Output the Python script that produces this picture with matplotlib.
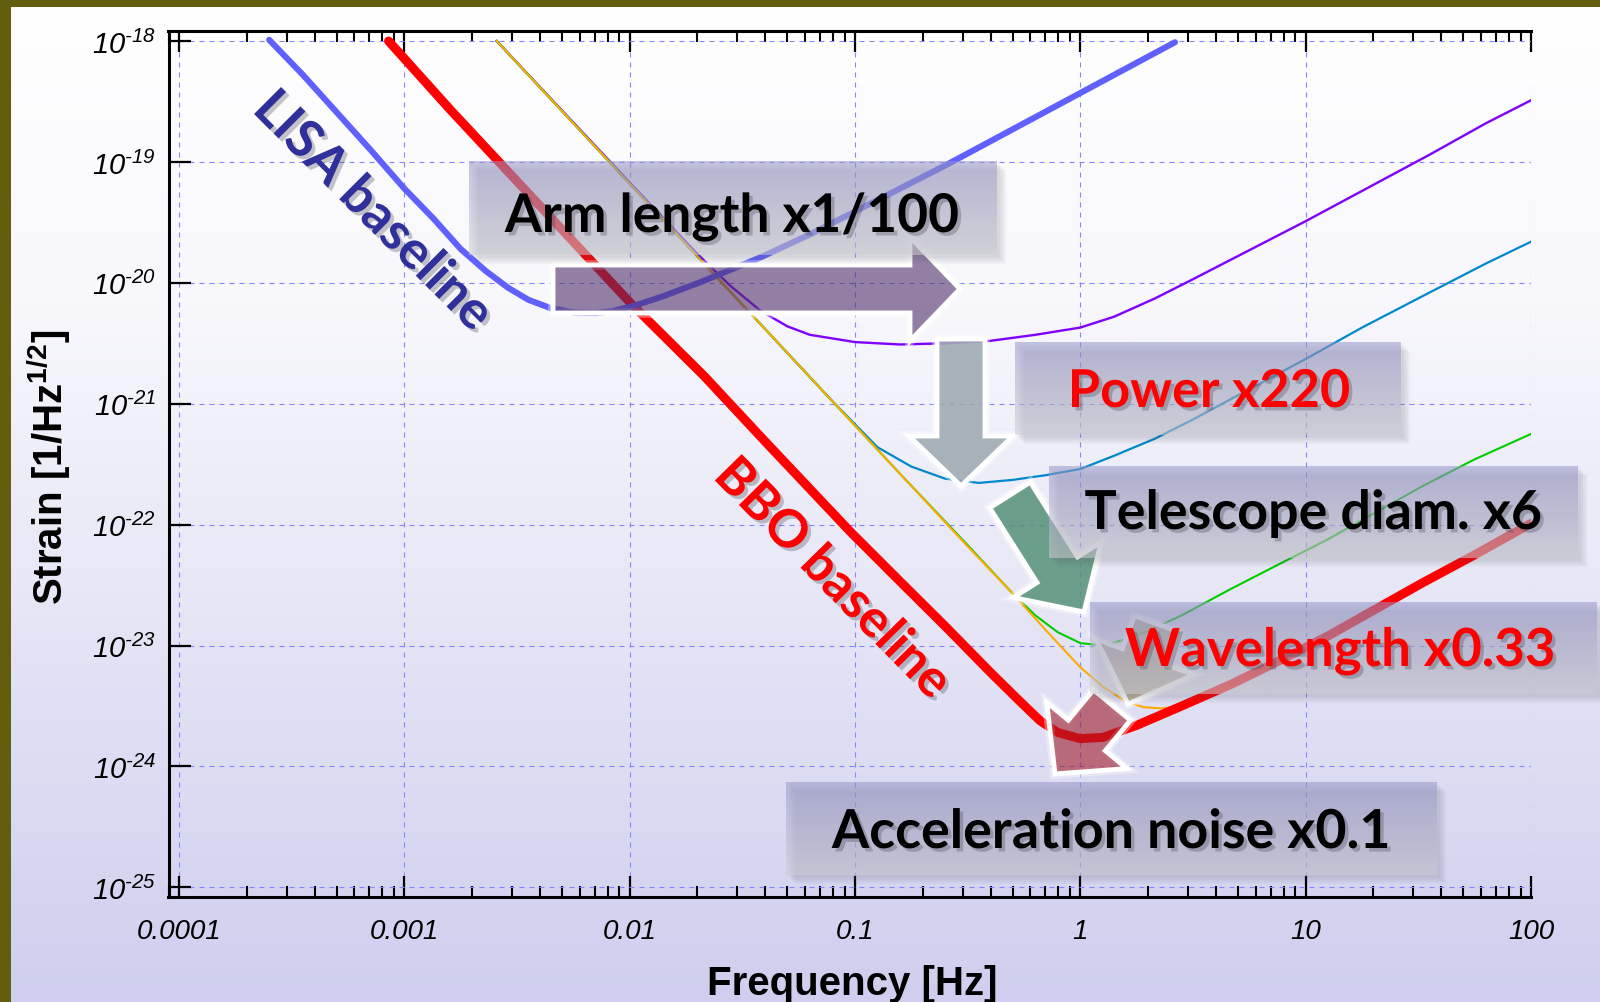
import numpy as np
import matplotlib
matplotlib.use("Agg")
import matplotlib.pyplot as plt
import matplotlib.patches as mpatches
import matplotlib.transforms as mtransforms
import matplotlib.patheffects as pe
from matplotlib.ticker import FixedLocator, NullLocator, LogLocator

W, H = 1600, 1003

# sensitivity curves: log10(f / Hz) and log10(strain / Hz^-1/2)
lisa_logf = [-3.60, -3.45, -3.30, -3.15, -3.00, -2.87, -2.75, -2.64, -2.54, -2.45, -2.35, -2.25,
             -2.15, -2.08, -1.98, -1.85, -1.68, -1.42, -1.20, -1.00, -0.80, -0.60, -0.40, -0.20, 0.00, 0.20, 0.42]
lisa_logh = [-17.99, -18.28, -18.59, -18.90, -19.22, -19.47, -19.72, -19.90, -20.04, -20.14, -20.21, -20.245,
             -20.25, -20.235, -20.19, -20.11, -19.99, -19.79, -19.60, -19.41, -19.22, -19.03, -18.83, -18.63,
             -18.43, -18.23, -18.01]

bbo_logf = [-3.07, -2.80, -2.50, -2.20, -2.00, -1.67, -1.40, -1.02, -0.80, -0.60, -0.40, -0.28, -0.18,
            -0.10, 0.00, 0.10, 0.25, 0.45, 0.67, 0.90, 1.10, 1.30, 1.52, 1.75, 2.00]
bbo_logh = [-18.00, -18.56, -19.16, -19.76, -20.16, -20.77, -21.31, -22.06, -22.47, -22.84, -23.22, -23.44, -23.62,
            -23.72, -23.77, -23.76, -23.66, -23.50, -23.32, -23.11, -22.92, -22.71, -22.48, -22.25, -21.99]

arm_logf = [-2.59, -2.00, -1.70, -1.55, -1.42, -1.30, -1.20, -1.00, -0.80, -0.60, -0.40, -0.20, 0.00,
            0.15, 0.33, 0.50, 0.75, 1.00, 1.30, 1.55, 1.80, 2.00]
arm_logh = [-18.00, -19.17, -19.76, -20.03, -20.23, -20.36, -20.43, -20.49, -20.51, -20.50, -20.48, -20.43, -20.37,
            -20.28, -20.13, -19.97, -19.73, -19.49, -19.19, -18.94, -18.68, -18.49]

power_logf = [-2.59, -2.00, -1.40, -1.10, -0.90, -0.75, -0.60, -0.45, -0.30, -0.15, 0.00, 0.15, 0.33,
              0.50, 0.75, 1.00, 1.25, 1.55, 1.80, 2.00]
power_logh = [-18.00, -19.18, -20.38, -20.98, -21.36, -21.52, -21.62, -21.655, -21.63, -21.59, -21.54, -21.43, -21.29,
              -21.13, -20.88, -20.63, -20.37, -20.08, -19.84, -19.66]

tele_logf = [-2.59, -2.00, -1.40, -0.80, -0.50, -0.40, -0.30, -0.20, -0.10, 0.00, 0.10, 0.20, 0.30,
             0.45, 0.67, 0.90, 1.10, 1.30, 1.52, 1.75, 2.00]
tele_logh = [-18.00, -19.18, -20.38, -21.58, -22.17, -22.37, -22.57, -22.75, -22.89, -22.98, -23.00, -22.95, -22.88,
             -22.75, -22.53, -22.31, -22.12, -21.91, -21.68, -21.46, -21.25]

wave_logf = [-2.59, -2.30, -2.00, -1.70, -1.40, -1.10, -0.80, -0.50, -0.30, -0.15, 0.00, 0.10, 0.20, 0.28,
             0.36, 0.45, 0.67, 0.90, 1.10, 1.30, 1.52, 1.75, 2.00]
wave_logh = [-18.00, -18.58, -19.18, -19.78, -20.38, -20.98, -21.58, -22.18, -22.57, -22.88, -23.18, -23.34, -23.46, -23.51,
             -23.52, -23.50, -23.32, -23.11, -22.92, -22.71, -22.48, -22.25, -21.99]

xticks = [1e-4, 1e-3, 1e-2, 1e-1, 1, 10, 100]
xticklabels = ["0.0001", "0.001", "0.01", "0.1", "1", "10", "100"]
yticks = [1e-25, 1e-24, 1e-23, 1e-22, 1e-21, 1e-20, 1e-19, 1e-18]
yexps = [25, 24, 23, 22, 21, 20, 19, 18]
yticklabels = ["$10^{\u2010%d}$" % e for e in yexps]

plt.rcParams["mathtext.fontset"] = "custom"
plt.rcParams["mathtext.rm"] = "Liberation Sans:italic"
plt.rcParams["mathtext.it"] = "Liberation Sans:italic"
plt.rcParams["mathtext.bf"] = "Liberation Sans:bold"

fig = plt.figure(figsize=(16, 10.03), dpi=100, facecolor="#635d0d")
# pixel coords, origin top-left
px = mtransforms.Affine2D().scale(1 / W, -1 / H).translate(0, 1) + fig.transFigure

# background gradient
bg = fig.add_axes([11 / W, 0, 1 - 11 / W, 1 - 8 / H])
t = np.linspace(0, 1, 300)
stops = [0, 0.3, 0.6, 1]
cols = np.array([[255, 255, 255], [247, 247, 252], [230, 230, 246], [207, 206, 238]]) / 255
grad = np.stack([np.interp(t, stops, cols[:, k]) for k in range(3)], axis=1)[:, None, :]
bg.imshow(grad, aspect="auto", extent=(0, 1, 0, 1))
bg.axis("off")
bg.set_zorder(-1)

ax = fig.add_axes([168.5 / W, 1 - 898 / H, (1531 - 168.5) / W, (898 - 32) / H])
ax.patch.set_visible(False)
ax.set_xscale("log")
ax.set_yscale("log")

def curve(lf, lh, **kw):
    ax.plot(10 ** np.array(lf), 10 ** np.array(lh), **kw)

curve(arm_logf, arm_logh, color="#8000ff", lw=1.7, zorder=2)
curve(power_logf, power_logh, color="#0088cc", lw=1.6, zorder=2.1)
curve(tele_logf, tele_logh, color="#00cc00", lw=1.5, zorder=2.2)
curve(wave_logf, wave_logh, color="#ffaa00", lw=1.5, zorder=2.3)
curve(bbo_logf, bbo_logh, color="#ff0000", lw=6.5, solid_capstyle="round", zorder=2.5)
curve(lisa_logf, lisa_logh, color="#6060ff", lw=4.4, solid_capstyle="round", zorder=2.6)

ax.set_xlim(10 ** -4.0466, 100)
ax.set_ylim(10 ** -25.08, 10 ** -17.917)

ax.xaxis.set_major_locator(FixedLocator(xticks))
ax.xaxis.set_minor_locator(LogLocator(base=10, subs=np.arange(2, 10), numticks=30))
ax.set_xticklabels(xticklabels, fontstyle="italic", family="Liberation Sans")
ax.yaxis.set_major_locator(FixedLocator(yticks))
ax.yaxis.set_minor_locator(NullLocator())
ax.set_yticklabels(yticklabels)

ax.tick_params(axis="x", which="major", direction="in", length=15, width=1.6,
               top=True, bottom=True, pad=15, labelsize=20)
ax.tick_params(axis="x", which="minor", direction="in", length=8, width=1.5, top=True, bottom=True)
ax.tick_params(axis="y", which="major", direction="in", length=16, width=1.6,
               left=True, right=False, pad=9, labelsize=21)
for s in ["left", "bottom", "top"]:
    ax.spines[s].set_linewidth(2.2)
ax.spines["right"].set_visible(False)
ax.set_axisbelow(True)
ax.grid(True, which="major", color="#8585ff", lw=0.8, ls=(0, (4.5, 4.5)))

fig.text(49 / W, 1 - 467 / H, r"Strain [1/Hz$^{\mathbf{1/2}}$]", rotation=90, ha="center", va="center",
         fontsize=29, fontweight="bold", family="Liberation Sans")
fig.text(852 / W, 1 - 995 / H, "Frequency [Hz]", ha="center", va="baseline",
         fontsize=29, fontweight="bold", family="Liberation Sans")

shadow = [pe.withSimplePatchShadow(offset=(2.5, -2.5), shadow_rgbFace="#404050", alpha=0.3)]

fig.text(373, 212, "LISA baseline", transform=px, rotation=-45, rotation_mode="anchor",
         ha="center", va="center", fontsize=38, fontweight="bold", family="Lato",
         color="#30309a", path_effects=shadow, zorder=6)
fig.text(832, 580, "BBO baseline", transform=px, rotation=-45.5, rotation_mode="anchor",
         ha="center", va="center", fontsize=37.5, fontweight="bold", family="Lato",
         color="#ff0000", path_effects=shadow, zorder=6)

# block arrows: tail, tip, face colour, alpha
arrows = [
    ((553, 290), (960, 290), "#502f69", 0.6),
    ((961, 340), (961, 487), "#9ba7af", 0.85),
    ((1010, 496), (1084, 613), "#559078", 0.85),
    ((1157, 625), (1128, 705), "#b0a080", 0.75),
    ((1112, 706), (1055, 775), "#a01c2a", 0.6),
]
for (x0, y0), (x1, y1), c, a in arrows:
    rgb = matplotlib.colors.to_rgb(c)
    geom = dict(width=48, head_width=104, head_length=50, length_includes_head=True, transform=px)
    fig.add_artist(mpatches.FancyArrow(x0, y0, x1 - x0, y1 - y0, facecolor="none",
                                       edgecolor=(1, 1, 1, 0.35), lw=7, zorder=2.9, **geom))
    fig.add_artist(mpatches.FancyArrow(x0, y0, x1 - x0, y1 - y0, facecolor=(*rgb, a),
                                       edgecolor="white", lw=3.5, zorder=3, **geom))

# translucent label boxes
boxes = [
    (469, 162, 997, 256),
    (1015, 343, 1401, 436),
    (1049, 467, 1578, 559),
    (1090, 603, 1597, 695),
    (786, 783, 1437, 876),
]
ny = 64
top_c = np.array([150, 150, 200]) / 255
bot_c = np.array([205, 205, 212]) / 255
img = np.zeros((ny, 1, 4))
for i in range(ny):
    img[i, 0, :3] = top_c + (bot_c - top_c) * i / (ny - 1)
    img[i, 0, 3] = 0.55
for x0, y0, x1, y1 in boxes:
    for k in (3, 5, 7, 9):
        fig.add_artist(mpatches.Rectangle((x0 + k, y0 + k), x1 - x0, y1 - y0, transform=px,
                                          facecolor="#505060", alpha=0.05, lw=0, zorder=3.5))
    bax = fig.add_axes([x0 / W, 1 - y1 / H, (x1 - x0) / W, (y1 - y0) / H])
    bax.imshow(img, aspect="auto", extent=(0, 1, 0, 1))
    bax.axis("off")
    bax.set_zorder(4)

renderer = fig.canvas.get_renderer()

def label(s, cx, base_y, width, color):
    tx = fig.text(cx, base_y, s, transform=px, ha="center", va="baseline", fontsize=30,
                  fontweight="bold", family="Lato", color=color, path_effects=shadow, zorder=6)
    w = tx.get_window_extent(renderer).width
    tx.set_fontsize(30 * width / w)
    return tx

label("Arm length x1/100", 732, 233, 454, "black")
label("Power x220", 1209, 408, 282, "#ff0000")
label("Telescope diam. x6", 1313, 530, 457, "black")
label("Wavelength x0.33", 1340, 667, 430, "#ff0000")
label("Acceleration noise x0.1", 1111, 849, 558, "black")

fig.savefig("out.png", dpi=100, facecolor=fig.get_facecolor())
